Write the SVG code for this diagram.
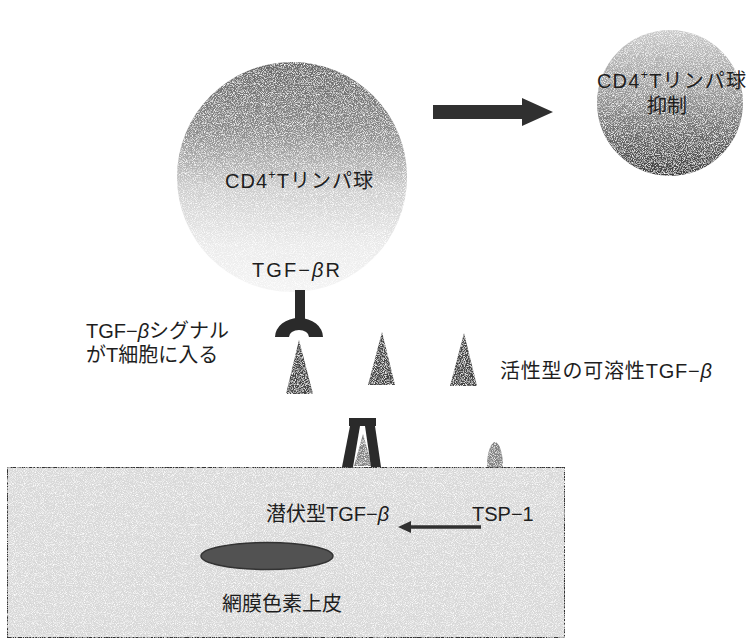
<svg xmlns="http://www.w3.org/2000/svg" width="748" height="641" viewBox="0 0 748 641">
  <defs>
    <style>
      .lbl { font-family: "Liberation Sans", "Noto Sans CJK JP", sans-serif; font-size: 20px; fill: #1e1e1e; }
      .mid { text-anchor: middle; }
      .beta { font-style: italic; }
      .dark { fill: #303030; }
      .tri { fill: #444; filter: url(#stipple); }
      .solid { fill: #2a2a2a; }
      .pale { fill: #828282; filter: url(#stipple); }
    </style>
    <!-- printed halftone speckle laid over shaded fills -->
    <filter id="stipple" x="0" y="0" width="1" height="1">
      <feTurbulence type="fractalNoise" baseFrequency="1.1" numOctaves="1" seed="7" result="noise"/>
      <feColorMatrix in="noise" type="matrix" values="0 0 0 0 1  0 0 0 0 1  0 0 0 0 1  3 0 0 0 -1.35" result="speck"/>
      <feComposite in="speck" in2="SourceGraphic" operator="in" result="clip"/>
      <feMerge><feMergeNode in="SourceGraphic"/><feMergeNode in="clip"/></feMerge>
    </filter>
    <linearGradient id="cellShade" x1="0" y1="0" x2="0" y2="1">
      <stop offset="0" stop-color="#666"/>
      <stop offset="0.3" stop-color="#8a8a8a"/>
      <stop offset="0.55" stop-color="#cdcdcd"/>
      <stop offset="0.8" stop-color="#ebebeb"/>
      <stop offset="1" stop-color="#f4f4f4"/>
    </linearGradient>
    <linearGradient id="suppShade" x1="0" y1="0" x2="0" y2="1">
      <stop offset="0" stop-color="#cacaca"/>
      <stop offset="0.45" stop-color="#969696"/>
      <stop offset="1" stop-color="#3c3c3c"/>
    </linearGradient>
  </defs>

  <!-- CD4+ T lymphocyte carrying the TGF-beta receptor -->
  <g id="cd4-cell">
    <circle cx="292" cy="177" r="115" fill="url(#cellShade)" filter="url(#stipple)"/>
    <text class="lbl" x="225" y="188" textLength="148" lengthAdjust="spacing">CD4<tspan font-size="13" dy="-9">+</tspan><tspan dy="9">Tリンパ球</tspan></text>
    <text class="lbl" x="252" y="277" textLength="88" lengthAdjust="spacing">TGF−<tspan class="beta">β</tspan>R</text>
  </g>

  <!-- suppressed CD4+ T lymphocyte -->
  <g id="cd4-suppressed">
    <circle cx="670" cy="103" r="73" fill="url(#suppShade)" filter="url(#stipple)"/>
    <text class="lbl" x="597" y="88" textLength="149" lengthAdjust="spacing">CD4<tspan font-size="13" dy="-9">+</tspan><tspan dy="9">Tリンパ球</tspan></text>
    <text class="lbl mid" x="667" y="113">抑制</text>
  </g>

  <!-- receptor on the cell surface -->
  <g id="receptor">
    <rect class="solid" x="295" y="290" width="10" height="31"/>
    <path class="solid" d="M275,337 A24,19 0 0 1 323,337 L309,337 A10,7 0 0 0 289,337 Z"/>
  </g>

  <!-- active soluble TGF-beta -->
  <g id="tgfb-active-1"><polygon class="tri" points="299,340 313,394 286,394"/></g>
  <g id="tgfb-active-2"><polygon class="tri" points="382,332 395,385 368,385"/></g>
  <g id="tgfb-active-3"><polygon class="tri" points="464,333 477,386 450,386"/></g>

  <g id="label-signal">
    <text class="lbl" x="86" y="338">TGF−<tspan class="beta">β</tspan>シグナル</text>
    <text class="lbl" x="86" y="362">がT細胞に入る</text>
  </g>
  <g id="label-active">
    <text class="lbl" x="500" y="378" textLength="212" lengthAdjust="spacing">活性型の可溶性TGF−<tspan class="beta">β</tspan></text>
  </g>

  <!-- retinal pigment epithelium layer -->
  <g id="rpe-layer">
    <rect x="7" y="467" width="558" height="171" fill="#d8d8d8" stroke="#333" stroke-width="2" filter="url(#stipple)"/>
    <ellipse cx="267" cy="556" rx="66" ry="13.5" fill="#525252" stroke="#333" stroke-width="1.5"/>
    <text class="lbl" x="222" y="611">網膜色素上皮</text>
  </g>

  <!-- latent TGF-beta held in its complex on the epithelial surface -->
  <g id="latent-tgfb">
    <polygon class="pale" points="363,434 372,466 354,466"/>
    <rect class="solid" x="349" y="418" width="27" height="8"/>
    <polygon class="solid" points="350,426 360,426 353,467 342,467"/>
    <polygon class="solid" points="365,426 375,426 381,467 371,467"/>
    <text class="lbl" x="266" y="521">潜伏型TGF−<tspan class="beta">β</tspan></text>
  </g>

  <!-- thrombospondin-1 -->
  <g id="tsp1">
    <path class="pale" d="M487,467 C487,452 491,442 495,442 C499,442 503,452 503,467 Z"/>
    <text class="lbl" x="472" y="521">TSP−1</text>
  </g>

  <g id="connectors">
    <polygon class="dark" points="433,105 522,105 522,98 553,112 522,126 522,119 433,119"/>
    <polygon class="dark" points="398,527 411,521 411,525.3 481,525.3 481,528.7 411,528.7 411,533"/>
  </g>
</svg>
